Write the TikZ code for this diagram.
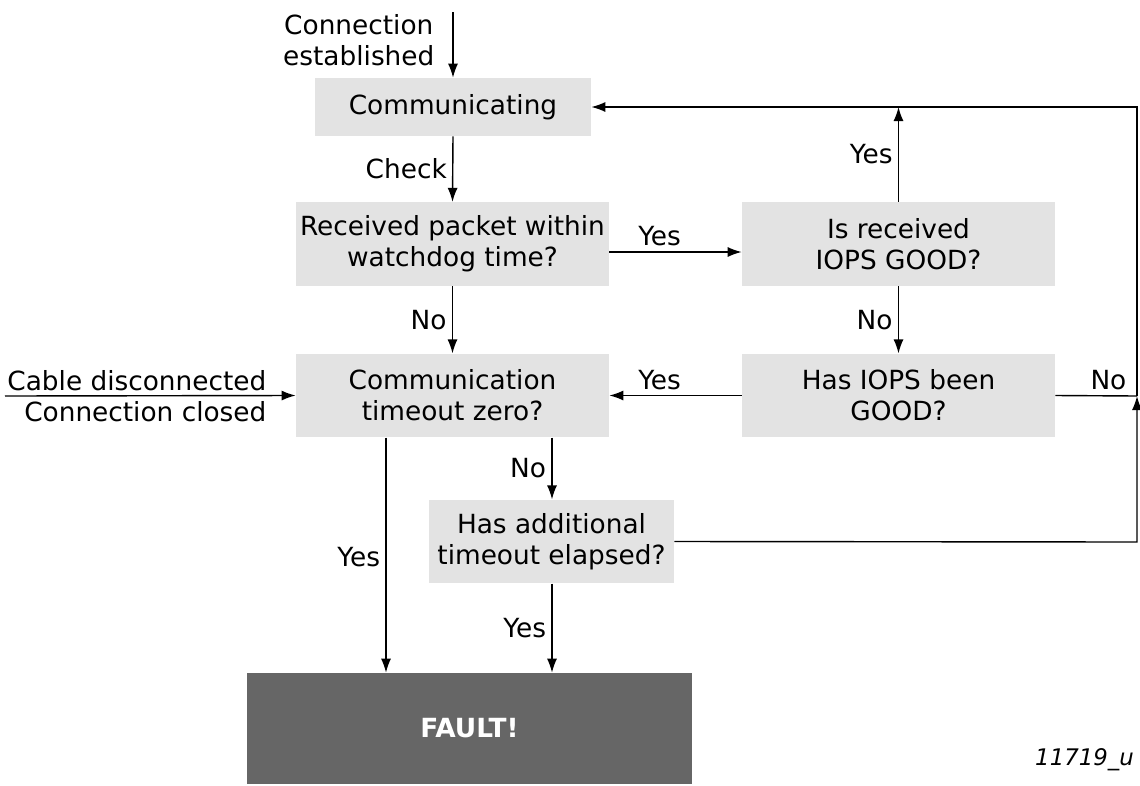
\documentclass[tikz,border=0pt]{standalone}
\usepackage{fontspec}
\setmainfont{DejaVu Sans}
\usepackage{tikz}
\usetikzlibrary{arrows.meta,positioning}

\definecolor{boxgray}{HTML}{E3E3E3}
\definecolor{faultgray}{HTML}{666666}

\begin{document}
\begin{tikzpicture}[
    x=0.02cm, y=-0.02cm,
    font=\fontsize{15}{17.5}\selectfont,
    box/.style={rectangle, fill=boxgray, align=center, inner sep=0pt, minimum width=6.26cm, minimum height=1.67cm},
    lbl/.style={inner sep=3pt},
    arrow/.style={-{Latex[length=2.8mm,width=2mm]}, line width=0.8pt},
    line/.style={line width=0.8pt}
]
    \useasboundingbox (0,0) rectangle (1140,785);

    % States and checks
    \node[box, minimum width=5.52cm, minimum height=1.16cm] (comm) at (453,107) {Communicating};
    \node[box] (recv) at (452.5,244) {Received packet within\\watchdog time?};
    \node[box] (isgood) at (898.5,244) {Is received\\IOPS GOOD?};
    \node[box] (timeout) at (452.5,395.5) {Communication\\timeout zero?};
    \node[box] (beengood) at (898.5,395.5) {Has IOPS been\\GOOD?};
    \node[box, minimum width=4.9cm] (addl) at (551.5,541.5) {Has additional\\timeout elapsed?};
    \node[box, fill=faultgray, text=white, font=\fontsize{15}{17.5}\selectfont\bfseries,
          minimum width=8.9cm, minimum height=2.22cm] (fault) at (469.5,728.5) {FAULT!};

    % Helper coordinates
    \coordinate (start) at (453,12);
    \coordinate (cable) at (5,396);
    \coordinate (yrow) at (0,252);
    \coordinate (xyes) at (386,0);
    \coordinate (xno) at (552,0);
    \coordinate (top) at (1137,107);
    \coordinate (join) at (1137,396);
    \coordinate (bottom) at (1137,542);

    % Inputs
    \draw[arrow] (start) -- (comm.north);
    \node[lbl, anchor=east, align=center] (estab) at (440,40) {Connection\\established};
    \draw[arrow] (cable) -- (timeout.west);
    \node[lbl, anchor=south east] (cabledis) at (272,396) {Cable disconnected};
    \node[lbl, anchor=north east] (connclosed) at (272,396) {Connection closed};

    % Arrows
    \draw[arrow] (comm.south) -- node[lbl, left] (check) {Check} (recv.north);
    \draw[arrow] (recv.east |- yrow) -- node[lbl, above, pos=0.38] (yes1) {Yes} (isgood.west |- yrow);
    \draw[arrow] (isgood.north) -- node[lbl, left] (yes2) {Yes} (isgood.north |- top);
    \draw[arrow] (recv.south) -- node[lbl, left] (no1) {No} (timeout.north);
    \draw[arrow] (isgood.south) -- node[lbl, left] (no2) {No} (beengood.north);
    \draw[arrow] (beengood.west) -- node[lbl, above, pos=0.62] (yes3) {Yes} (timeout.east);
    \draw[line] (beengood.east) -- node[lbl, above, pos=0.65] (no3) {No} (join);
    \draw[arrow] (addl.east) -- (bottom) -- (join);
    \draw[arrow] (join) -- (top) -- (comm.east);
    \draw[arrow] (timeout.south -| xno) -- node[lbl, left] (no4) {No} (addl.north -| xno);
    \draw[arrow] (timeout.south -| xyes) -- node[lbl, left, pos=0.51] (yes4) {Yes} (fault.north -| xyes);
    \draw[arrow] (addl.south -| xno) -- node[lbl, left] (yes5) {Yes} (fault.north -| xno);

    % Figure number
    \node[font=\fontsize{13}{15}\selectfont\itshape, anchor=east] (fignum) at (1140,760) {11719\_u};
\end{tikzpicture}
\end{document}
